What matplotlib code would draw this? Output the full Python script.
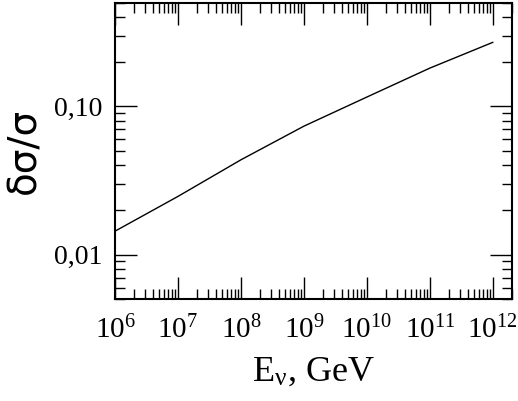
import matplotlib
matplotlib.use("Agg")
import matplotlib.pyplot as plt
from matplotlib.ticker import FixedLocator, FixedFormatter, LogLocator, NullFormatter

# relative cross-section uncertainty vs neutrino energy
energy = [1e6, 1e7, 1e8, 1e9, 1e10, 1e11, 1e12]
rel_err = [0.0144, 0.0247, 0.0436, 0.0735, 0.1155, 0.181, 0.270]

x_ticks = [1e6, 1e7, 1e8, 1e9, 1e10, 1e11, 1e12]
x_labels = [r"$\mathregular{10^{%d}}$" % p for p in range(6, 13)]
y_ticks = [0.01, 0.1]
y_labels = ["0,01", "0,10"]

plt.rcParams["font.family"] = ["Liberation Serif", "DejaVu Serif"]
plt.rcParams["mathtext.fontset"] = "stix"

fig = plt.figure(figsize=(5.18, 4.01), dpi=100)
ax = fig.add_axes([0.222, 0.2536, 0.7658, 0.7397])

ax.plot(energy, rel_err, color="black", linewidth=1.0)

ax.set_xscale("log")
ax.set_yscale("log")
ax.set_xlim(1e6, 2e12)
ax.set_ylim(0.005, 0.5)

ax.xaxis.set_major_locator(FixedLocator(x_ticks))
ax.xaxis.set_major_formatter(FixedFormatter(x_labels))
ax.xaxis.set_minor_locator(LogLocator(base=10, subs=range(2, 10), numticks=30))
ax.xaxis.set_minor_formatter(NullFormatter())
ax.yaxis.set_major_locator(FixedLocator(y_ticks))
ax.yaxis.set_major_formatter(FixedFormatter(y_labels))
ax.yaxis.set_minor_locator(LogLocator(base=10, subs=range(2, 10), numticks=30))
ax.yaxis.set_minor_formatter(NullFormatter())

ax.tick_params(which="both", direction="in", top=True, right=True, width=1.0)
ax.tick_params(which="major", length=15.5, pad=9, labelsize=20)
ax.tick_params(axis="x", which="major", pad=12, labelsize=21)
ax.tick_params(which="minor", length=7.2)
for sp in ax.spines.values():
    sp.set_linewidth(1.5)

ax.set_xlabel(r"E$_{\mathregular{ν}}$, GeV", fontsize=26, labelpad=8)
ax.set_ylabel("δσ/σ", fontsize=28, family="DejaVu Sans", labelpad=8)

fig.savefig("out.png", dpi=100)
